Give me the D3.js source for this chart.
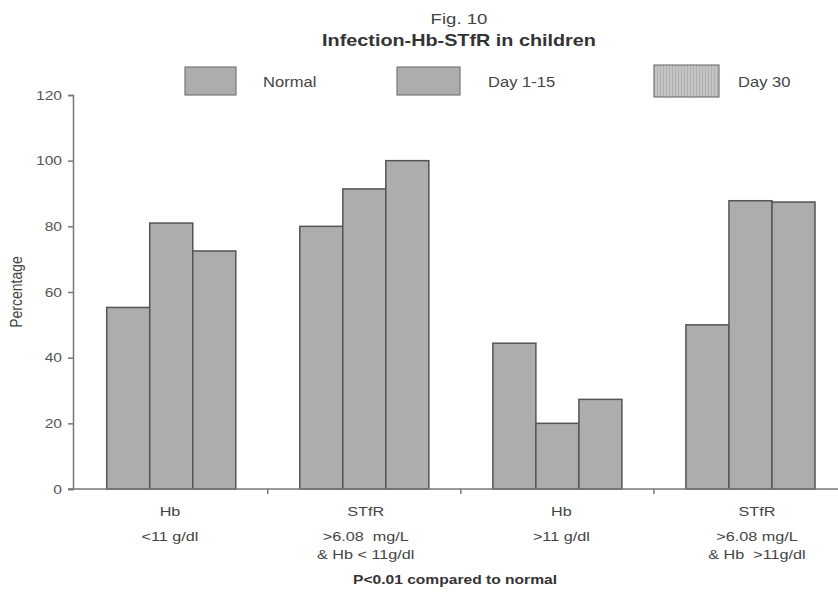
<!DOCTYPE html>
<html><head><meta charset="utf-8">
<script src="https://cdn.jsdelivr.net/npm/d3@7"></script>
<style>
html,body{margin:0;padding:0;background:#fff;}
text{font-family:"Liberation Sans",Arial,sans-serif;white-space:pre;}
</style></head>
<body><svg id="c" width="838" height="598"></svg>
<script>
const categories = ["g1","g2","g3","g4"];
const catTop = ["Hb","STfR","Hb","STfR"];
const catSub = [["<11 g/dl"],[">6.08  mg/L","& Hb < 11g/dl"],[">11 g/dl"],[">6.08 mg/L","& Hb  >11g/dl"]];
const seriesNames = ["Normal","Day 1-15","Day 30"];
const normal = [55.3, 80, 44.4, 50];
const day1_15 = [81, 91.4, 20, 87.8];
const day30 = [72.5, 100, 27.3, 87.4];
const yTicks = [0,20,40,60,80,100,120];

const SX = 1.2; // horizontal stretch of the reference's lettering
const seriesVals = [normal, day1_15, day30];
const svg = d3.select("#c");
const x0 = d3.scaleBand().domain(categories).range([74.7, 847]).paddingInner(0).paddingOuter(0);
const x1 = d3.scaleBand().domain(seriesNames).range([32, x0.bandwidth()-32]).padding(0);
const y = d3.scaleLinear().domain([0,120]).range([489, 95]);
const labelX = d3.scalePoint().domain(categories).range([170, 757]);

function addText(g, x, yy, str, size, opts={}) {
  const t = g.append("text")
    .attr("transform", `translate(${x},${yy}) scale(${SX},1)`)
    .attr("font-size", size)
    .attr("fill", opts.fill || "#444")
    .attr("text-anchor", opts.anchor || "start")
    .text(str);
  if (opts.bold) t.attr("font-weight","bold");
  return t;
}

// defs for Day 30 legend texture
const defs = svg.append("defs");
const pat = defs.append("pattern").attr("id","hatch").attr("width",3).attr("height",3).attr("patternUnits","userSpaceOnUse");
pat.append("rect").attr("width",3).attr("height",3).attr("fill","#c4c4c4");
pat.append("rect").attr("width",1).attr("height",3).attr("fill","#b0b0b0");

// title
addText(svg, 459, 24, "Fig. 10", 15.5, {anchor:"middle"});
addText(svg, 459, 46, "Infection-Hb-STfR in children", 16.5, {anchor:"middle", bold:true, fill:"#333"});

// bars
const data = [];
categories.forEach((c,i)=>seriesNames.forEach((s,j)=>data.push({c,s,v:seriesVals[j][i]})));
svg.append("g").selectAll("rect").data(data).join("rect")
  .attr("x",d=>x0(d.c)+x1(d.s))
  .attr("y",d=>y(d.v))
  .attr("width",x1.bandwidth())
  .attr("height",d=>y(0)-y(d.v))
  .attr("fill","#adadad").attr("stroke","#555").attr("stroke-width",1.5);

// y axis
const yAxis = d3.axisLeft(y).tickValues(yTicks).tickSize(5).tickPadding(6);
const gy = svg.append("g").attr("transform","translate(73,0)").call(yAxis);
gy.select(".domain").attr("stroke","#777").attr("stroke-width",1.5);
gy.selectAll(".tick line").attr("stroke","#777").attr("stroke-width",1.5);
gy.selectAll(".tick text").attr("font-size",13).attr("fill","#555")
  .attr("font-family","Liberation Sans, Arial, sans-serif")
  .attr("x", -11/SX).attr("transform", `scale(${SX},1)`);

// x axis line + ticks at band boundaries
svg.append("line").attr("x1",68).attr("x2",847).attr("y1",y(0)).attr("y2",y(0)).attr("stroke","#777").attr("stroke-width",1.5);
svg.append("g").selectAll("line").data(categories.slice(1)).join("line")
  .attr("x1",d=>x0(d)).attr("x2",d=>x0(d)).attr("y1",y(0)).attr("y2",y(0)+5)
  .attr("stroke","#777").attr("stroke-width",1.5);

// category labels
const cg = svg.append("g");
categories.forEach((c,i)=>{
  const cx = labelX(c);
  addText(cg, cx, 516, catTop[i], 13.5, {anchor:"middle"});
  catSub[i].forEach((t,k)=>{
    addText(cg, cx, 541+k*18, t, 13.5, {anchor:"middle"});
  });
});

// footnote
addText(svg, 455, 584, "P<0.01 compared to normal", 13, {anchor:"middle", bold:true, fill:"#333"});

// y label
svg.append("text").attr("transform","translate(22,292) rotate(-90) scale(1,1.2)")
  .attr("text-anchor","middle").attr("font-size",14).attr("fill","#444").text("Percentage");

// legend
const legendBoxes = [[185,67,51,28],[397,67,63,28],[654,65,65,32]];
const legendTextX = [263,488,738];
seriesNames.forEach((s,j)=>{
  const b = legendBoxes[j];
  svg.append("rect").attr("x",b[0]).attr("y",b[1]).attr("width",b[2]).attr("height",b[3])
    .attr("fill", j===2 ? "url(#hatch)" : "#adadad").attr("stroke","#777").attr("stroke-width",1.2);
  addText(svg, legendTextX[j], 87, s, 13.8);
});
</script></body></html>
